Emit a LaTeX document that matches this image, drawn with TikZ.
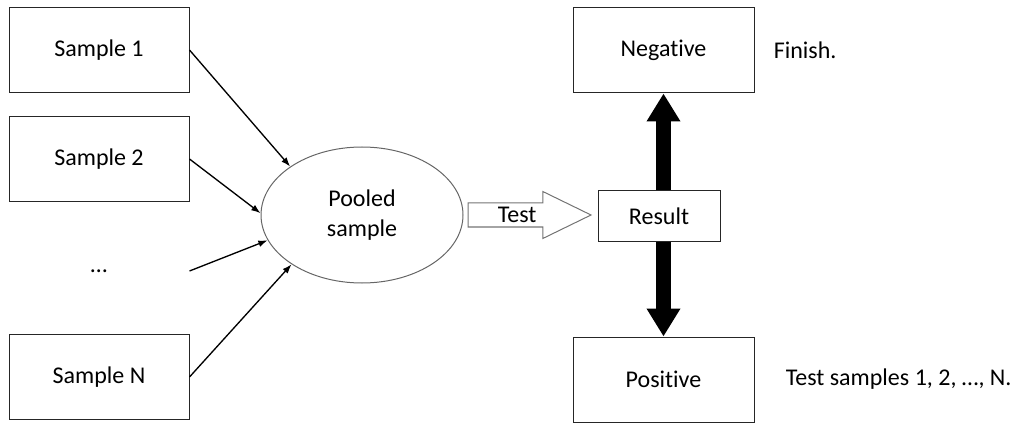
\documentclass[tikz,border=0pt]{standalone}
\usepackage{fontspec}
\setmainfont{Carlito}[Ligatures={NoCommon}]
\usetikzlibrary{positioning,shapes.geometric,shapes.arrows,arrows.meta}

\tikzset{
	txt/.style={font=\fontsize{18}{22}\selectfont},
	box/.style={txt,draw=black!85,line width=0.75pt,inner sep=0pt,minimum width=135pt,minimum height=63.75pt},
	note/.style={txt,inner sep=0pt},
	feed/.style={line width=1pt,-{Latex[length=7pt,width=5pt]}},
	bigarrow/.style={line width=11.25pt,-{Triangle[width=24pt,length=21pt]}},
	testarrow/.style={txt,single arrow,draw=black!55,line width=0.75pt,inner xsep=2pt,inner ysep=0pt,
		text height=14.25pt,text depth=3pt,minimum height=92.25pt,single arrow head extend=8.6pt,
		single arrow tip angle=52,anchor=tail}
}

\begin{document}
\begin{tikzpicture}[x=0.75pt,y=-0.75pt]
	\useasboundingbox (0,0) rectangle (1021,424);
	\node[box] (s1) at (99,50) {Sample 1};
	\node[box] (s2) at (99,159) {Sample 2};
	\node[box,draw=none] (dots) at (99,271) {\ldots};
	\node[box] (sN) at (99,377) {Sample N};
	\node[txt,ellipse,draw=black!60,line width=0.75pt,inner sep=0pt,minimum width=151.5pt,minimum height=102pt,align=center] (pool) at (362,215) {Pooled\\sample};
	\foreach \n/\a in {s1/146,s2/179,dots/195,sN/215} {
		\draw[feed] (\n.east) -- (pool.\a);
	}
	\node[testarrow] (test) at ([xshift=3pt]pool.east) {Test};
	\node[box,minimum width=91.5pt,minimum height=37.5pt] (res) at (659,216) {Result};
	\node[box,minimum width=135.75pt] (neg) at (663.5,50.5) {Negative};
	\node[box,minimum width=135.75pt] (pos) at (663.5,379.5) {Positive};
	\draw[bigarrow] (res.north -| neg.south) -- (neg.south);
	\draw[bigarrow] (res.south -| pos.north) -- (pos.north);
	\node[note,right=14.25pt of neg] (fin) {Finish.};
	\node[note,right=23.25pt of pos] (redo) {Test samples 1, 2, \ldots, N.};
\end{tikzpicture}
\end{document}
